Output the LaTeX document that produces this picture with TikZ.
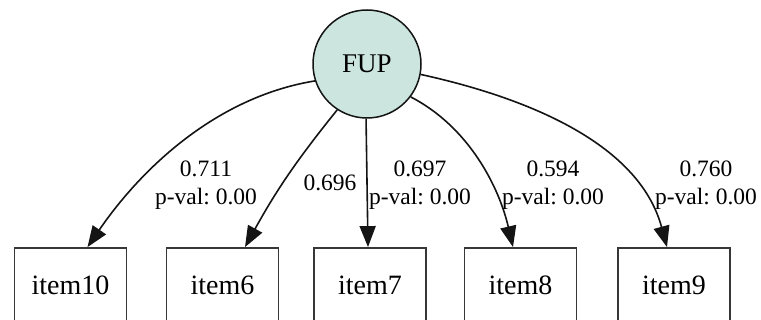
\documentclass[tikz,border=0pt]{standalone}
\usepackage{fontspec}
\setmainfont{Liberation Serif}
\usetikzlibrary{arrows.meta,calc}
\frenchspacing

\definecolor{latentfill}{RGB}{204,230,223}
\definecolor{edgeink}{RGB}{20,20,20}

\tikzset{
  latent/.style={circle, draw=edgeink, line width=1.5pt, fill=latentfill,
    minimum size=108pt, inner sep=0pt, font=\fontsize{27}{30}\selectfont},
  indicator/.style={rectangle, draw=edgeink!85, line width=1.8pt,
    minimum width=112pt, minimum height=75pt, inner sep=0pt,
    font=\fontsize{28}{32}\selectfont},
  loading/.style={draw=edgeink, line width=1.6pt,
    -{Triangle[length=21pt,width=16pt]}},
  coef/.style={inner sep=0pt, align=center,
    font=\fontsize{23.5}{28}\selectfont}
}

\begin{document}
\begin{tikzpicture}[x=1pt,y=-1pt]
  \useasboundingbox (0,0) rectangle (761,320);

  % latent factor
  \node[latent] (fup) at (367,64) {FUP};

  % observed indicators
  \node[indicator] (item10) at (70.5,285.5) {item10};
  \node[indicator] (item6)  at (222.5,285.5) {item6};
  \node[indicator] (item7)  at (370,285.5) {item7};
  \node[indicator] (item8)  at (520.5,285.5) {item8};
  \node[indicator] (item9)  at (674,285.5) {item9};

  % arrow tips on the top side of each box
  \coordinate (t10) at ([xshift=17pt]item10.north);
  \coordinate (t6)  at ([xshift=22.5pt]item6.north);
  \coordinate (t7)  at ([xshift=-2pt]item7.north);
  \coordinate (t8)  at ([xshift=-7.5pt]item8.north);
  \coordinate (t9)  at ([xshift=-7pt]item9.north);

  % factor loadings
  \draw[loading] (fup.198) .. controls (216,97) and (141,169) .. (t10);
  \draw[loading] (fup.237) to[bend right=5] (t6);
  \draw[loading] (fup.269) -- (t7);
  \draw[loading] (fup.323) .. controls (469,127) and (499,187) .. (t8);
  \draw[loading] (fup.349) .. controls (519,96) and (638,140) .. (t9);

  % loading labels
  \node[coef] (l10) at (206,185.5) {0.711\\p-val: 0.00};
  \node[coef] (l6)  at (330,182.5) {0.696};
  \node[coef] (l7)  at (420,185.5) {0.697\\p-val: 0.00};
  \node[coef] (l8)  at (553,185.5) {0.594\\p-val: 0.00};
  \node[coef] (l9)  at (706,185.5) {0.760\\p-val: 0.00};
\end{tikzpicture}
\end{document}
